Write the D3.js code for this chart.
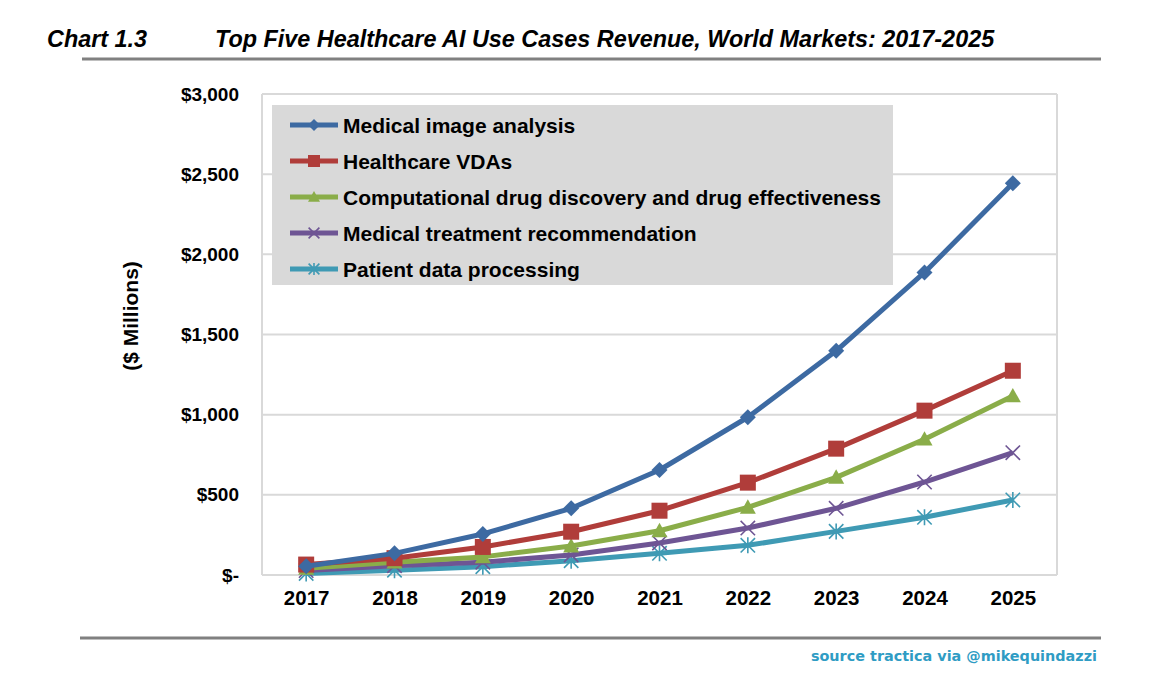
<!DOCTYPE html>
<html><head><meta charset="utf-8">
<script src="https://cdn.jsdelivr.net/npm/d3@7/dist/d3.min.js"></script>
<style>body{margin:0;background:#fff}svg{display:block}text{font-family:"Liberation Sans",Arial,sans-serif}</style>
</head><body><svg id="c" width="1159" height="689"></svg>
<script>
const years = ["2017","2018","2019","2020","2021","2022","2023","2024","2025"];
const seriesNames = ["Medical image analysis","Healthcare VDAs","Computational drug discovery and drug effectiveness","Medical treatment recommendation","Patient data processing"];
const medicalImage = [55, 135, 256, 416, 655, 984, 1398, 1887, 2443];
const healthcareVDAs = [65, 105, 175, 270, 401, 576, 788, 1025, 1274];
const drugDiscovery = [42, 80, 113, 181, 276, 422, 609, 847, 1117];
const treatmentRec = [28, 58, 80, 125, 200, 293, 416, 580, 763];
const patientData = [10, 30, 52, 89, 135, 185, 272, 360, 468];
const yTicks = [0, 500, 1000, 1500, 2000, 2500, 3000];
const yTickLabels = ["$-","$500","$1,000","$1,500","$2,000","$2,500","$3,000"];
const colors = ["#3d6aa2","#b03d3a","#8aad49","#6e5594","#3f9ab4"];
const markers = ["diamond","square","triangle","x","star"];
const allValues = [medicalImage, healthcareVDAs, drugDiscovery, treatmentRec, patientData];

const svg = d3.select("#c");
const L = 262, R = 1057, T = 94, B = 575;
const x = d3.scalePoint().domain(years).range([L, R]).padding(0.5);
const y = d3.scaleLinear().domain([0, 3000]).range([B, T]);

// title
svg.append("text").attr("x", 47).attr("y", 47).attr("font-size", 23.4).attr("font-weight", "bold").attr("font-style", "italic").text("Chart 1.3");
svg.append("text").attr("x", 215).attr("y", 47).attr("font-size", 23.4).attr("font-weight", "bold").attr("font-style", "italic").text("Top Five Healthcare AI Use Cases Revenue, World Markets: 2017-2025");
svg.append("rect").attr("x", 82).attr("y", 57.5).attr("width", 1019).attr("height", 3).attr("fill", "#808080");
svg.append("rect").attr("x", 80).attr("y", 636.5).attr("width", 1021).attr("height", 3).attr("fill", "#808080");
svg.append("text").attr("x", 1097).attr("y", 661).attr("text-anchor", "end").attr("font-size", 14.4).attr("font-weight", "bold")
  .attr("fill", "#2f9cc4").style("font-family", "Verdana,'DejaVu Sans',sans-serif").text("source tractica via @mikequindazzi");

// gridlines
svg.append("g").selectAll("line").data(yTicks).join("line")
  .attr("x1", L).attr("x2", R).attr("y1", d => y(d)).attr("y2", d => y(d))
  .attr("stroke", "#d9d9d9").attr("stroke-width", 2);
svg.append("line").attr("x1", L).attr("x2", L).attr("y1", T).attr("y2", B).attr("stroke", "#d9d9d9").attr("stroke-width", 2);
svg.append("line").attr("x1", R).attr("x2", R).attr("y1", T).attr("y2", B).attr("stroke", "#d9d9d9").attr("stroke-width", 2);

// y axis
const yAxis = d3.axisLeft(y).tickValues(yTicks).tickFormat((d, i) => yTickLabels[i]).tickSize(0).tickPadding(0);
const gy = svg.append("g").attr("transform", `translate(${L - 23},0)`).call(yAxis);
gy.select(".domain").remove();
gy.selectAll("text").attr("font-size", 19).attr("font-weight", "bold").attr("fill", "#000").style("font-family", "'Liberation Sans',Arial,sans-serif");

// x axis
const xAxis = d3.axisBottom(x).tickSize(0).tickPadding(0);
const gx = svg.append("g").attr("transform", `translate(0,${B + 15})`).call(xAxis);
gx.select(".domain").remove();
gx.selectAll("text").attr("font-size", 20.5).attr("font-weight", "bold").attr("fill", "#000").attr("dy", "0.71em").style("font-family", "'Liberation Sans',Arial,sans-serif");

svg.append("text").attr("transform", `translate(138,316) rotate(-90)`).attr("text-anchor", "middle")
  .attr("font-size", 21).attr("font-weight", "bold").text("($ Millions)");

function drawMarker(g, type, cx, cy, color, s) {
  const h = s / 2;
  if (type === "diamond") {
    g.append("path").attr("d", `M${cx},${cy - h}L${cx + h},${cy}L${cx},${cy + h}L${cx - h},${cy}Z`).attr("fill", color);
  } else if (type === "square") {
    g.append("rect").attr("x", cx - h).attr("y", cy - h).attr("width", s).attr("height", s).attr("fill", color);
  } else if (type === "triangle") {
    g.append("path").attr("d", `M${cx},${cy - h}L${cx + h},${cy + h * 0.8}L${cx - h},${cy + h * 0.8}Z`).attr("fill", color);
  } else if (type === "x") {
    const q = h * 0.9;
    g.append("path").attr("d", `M${cx - q},${cy - q}L${cx + q},${cy + q}M${cx - q},${cy + q}L${cx + q},${cy - q}`).attr("stroke", color).attr("stroke-width", 1.6);
  } else {
    const q = h * 0.9;
    g.append("path").attr("d", `M${cx - q},${cy - q}L${cx + q},${cy + q}M${cx - q},${cy + q}L${cx + q},${cy - q}M${cx},${cy - h}L${cx},${cy + h}`).attr("stroke", color).attr("stroke-width", 1.6);
  }
}

const line = d3.line().x((d, i) => x(years[i])).y(d => y(d));
for (let k = allValues.length - 1; k >= 0; k--) {
  const g = svg.append("g");
  g.append("path").attr("d", line(allValues[k])).attr("fill", "none").attr("stroke", colors[k]).attr("stroke-width", 5).attr("stroke-linejoin", "round");
  allValues[k].forEach((v, i) => drawMarker(g, markers[k], x(years[i]), y(v), colors[k], 16));
}

// legend
const lg = svg.append("g");
lg.append("rect").attr("x", 272).attr("y", 105).attr("width", 621).attr("height", 180).attr("fill", "#d9d9d9");
seriesNames.forEach((n, k) => {
  const cy = 125 + k * 36;
  lg.append("line").attr("x1", 290).attr("x2", 338).attr("y1", cy).attr("y2", cy).attr("stroke", colors[k]).attr("stroke-width", 5);
  drawMarker(lg, markers[k], 314, cy, colors[k], 12);
  lg.append("text").attr("x", 343).attr("y", cy + 7.5).attr("font-size", 21).attr("font-weight", "bold").text(n);
});
</script></body></html>
